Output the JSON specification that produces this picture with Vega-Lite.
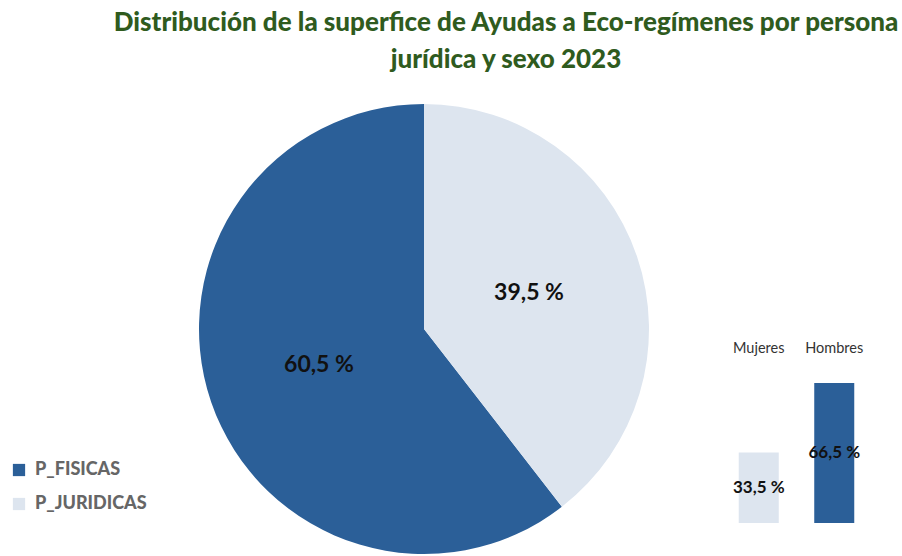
{
  "$schema": "https://vega.github.io/schema/vega-lite/v6.json",
  "background": "white",
  "padding": {"left": 10, "top": 10, "right": 10, "bottom": 0},
  "title": {
    "text": ["Distribución de la superfice de Ayudas a Eco-regímenes por persona", "jurídica y sexo 2023"],
    "anchor": "middle",
    "dx": 65,
    "font": "Lato",
    "fontSize": 26,
    "fontWeight": 900,
    "lineHeight": 37,
    "color": "#2f5b1e",
    "offset": 29
  },
  "spacing": 69,
  "resolve": {"scale": {"color": "independent"}, "legend": {"color": "independent"}},
  "hconcat": [
    {
      "width": 456,
      "height": 454,
      "data": {"values": [
        {"tipo": "P_FISICAS", "pct": 60.5, "etiqueta": "60,5 %"},
        {"tipo": "P_JURIDICAS", "pct": 39.5, "etiqueta": "39,5 %"}
      ]},
      "encoding": {
        "theta": {"field": "pct", "type": "quantitative", "stack": true},
        "order": {"field": "tipo", "sort": "descending"}
      },
      "layer": [
        {
          "mark": {"type": "arc", "radius": 225},
          "encoding": {
            "color": {
              "field": "tipo",
              "type": "nominal",
              "scale": {"domain": ["P_FISICAS", "P_JURIDICAS"], "range": ["#2b5f98", "#dde5ef"]},
              "legend": {
                "orient": "none",
                "legendX": -186,
                "legendY": 359,
                "title": null,
                "symbolType": "square",
                "symbolSize": 150,
                "symbolStrokeWidth": 0,
                "symbolOpacity": 1,
                "labelFont": "Lato",
                "labelFontSize": 18,
                "labelFontWeight": 900,
                "labelColor": "#666666",
                "labelOffset": 7,
                "rowPadding": 16
              }
            }
          }
        },
        {
          "mark": {"type": "text", "radius": 111, "font": "Lato", "fontSize": 23, "fontWeight": "bold", "color": "#111111"},
          "encoding": {"text": {"field": "etiqueta"}}
        }
      ]
    },
    {
      "width": 151,
      "height": 421,
      "data": {"values": [
        {"sexo": "Mujeres", "pct": 33.5, "etiqueta": "33,5 %"},
        {"sexo": "Hombres", "pct": 66.5, "etiqueta": "66,5 %"}
      ]},
      "encoding": {
        "x": {"field": "sexo", "type": "nominal", "sort": ["Mujeres", "Hombres"], "axis": null,
              "scale": {"paddingInner": 0.47, "paddingOuter": 0.235}}
      },
      "layer": [
        {
          "mark": {"type": "bar"},
          "encoding": {
            "y": {"field": "pct", "type": "quantitative", "axis": null, "scale": {"domain": [0, 194]}},
            "color": {"field": "sexo", "type": "nominal", "legend": null,
                      "scale": {"domain": ["Mujeres", "Hombres"], "range": ["#dde5ef", "#2b5f98"]}}
          }
        },
        {
          "transform": [{"calculate": "datum.pct / 2", "as": "mitad"}],
          "mark": {"type": "text", "font": "Lato", "fontSize": 17, "fontWeight": "bold", "color": "#111111"},
          "encoding": {
            "y": {"field": "mitad", "type": "quantitative"},
            "text": {"field": "etiqueta"}
          }
        },
        {
          "mark": {"type": "text", "font": "Lato", "fontSize": 14.5, "color": "#333333"},
          "encoding": {
            "y": {"datum": 82.5},
            "text": {"field": "sexo"}
          }
        }
      ]
    }
  ],
  "config": {"view": {"stroke": null}}
}
